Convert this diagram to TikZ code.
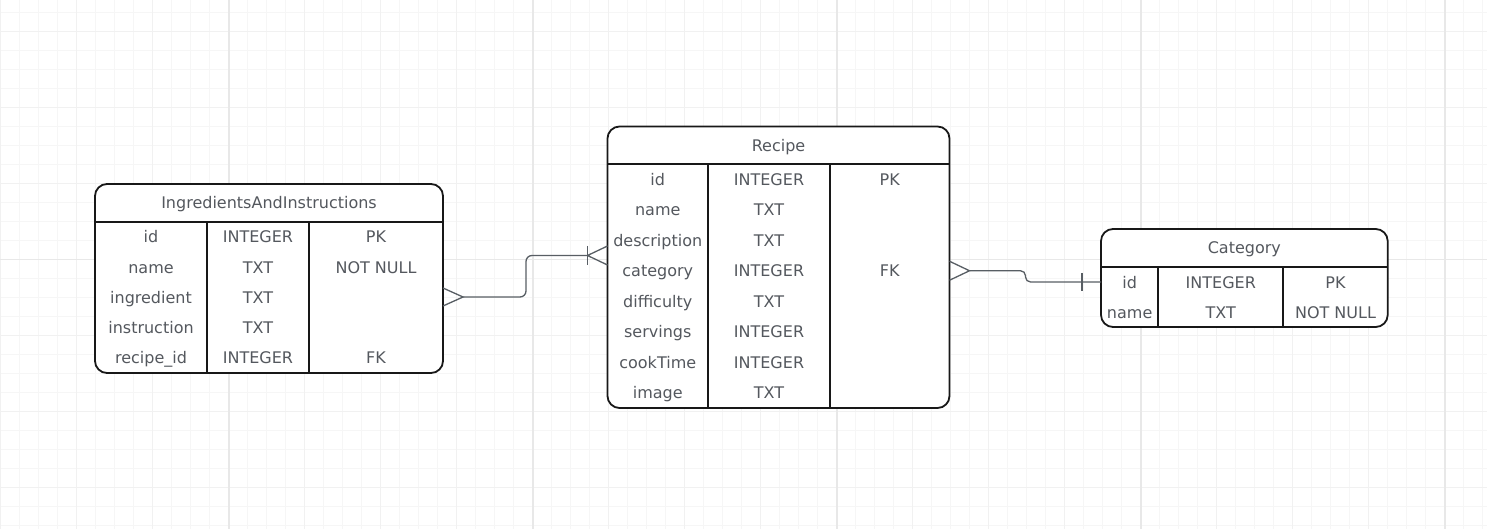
\documentclass[tikz,border=0pt]{standalone}
\usepackage{fontspec}
\setmainfont{DejaVu Sans}
\usetikzlibrary{positioning,calc}

\definecolor{textgray}{RGB}{84,88,94}
\definecolor{framecol}{RGB}{24,24,24}
\definecolor{relgray}{RGB}{88,94,100}

\begin{document}
\begin{tikzpicture}[
    x=1pt, y=-1pt,
    font=\fontsize{16}{19}\selectfont,
    gridminor/.style={draw=gray!7, line width=0.9pt},
    gridmid/.style={draw=gray!11, line width=1pt},
    gridmajor/.style={draw=gray!18, line width=1.6pt},
    entity/.style={draw=framecol, line width=1.8pt, fill=white, rounded corners=12pt, inner sep=0pt, outer sep=0pt, anchor=north west},
    entityhead/.style={text=textgray, inner sep=0pt, outer sep=0pt, minimum height=38pt, text height=12pt, text depth=0pt, anchor=north west},
    field/.style={text=textgray, inner sep=0pt, outer sep=0pt, minimum height=30pt, text height=12pt, text depth=0pt},
    recfield/.style={field, minimum height=30.5pt},
    divider/.style={draw=framecol, line width=1.8pt},
    rel/.style={draw=relgray, line width=1.3pt}
]
    \useasboundingbox (0,0) rectangle (1487,529);

    % Background grid
    \fill[white] (0,0) rectangle (1487,529);
    \foreach \x in {0.7,19.7,...,1487} \draw[gridminor] (\x,0) -- (\x,529);
    \foreach \y in {12.3,31.3,...,529} \draw[gridminor] (0,\y) -- (1487,\y);
    \foreach \x in {0.7,76.7,...,1487} \draw[gridmid] (\x,0) -- (\x,529);
    \foreach \y in {31.3,107.3,...,529} \draw[gridmid] (0,\y) -- (1487,\y);
    \foreach \x in {228.7,532.7,...,1487} \draw[gridmajor] (\x,0) -- (\x,529);
    \draw[gridmajor] (0,259.3) -- (1487,259.3);

    % IngredientsAndInstructions
    \node[entity, minimum width=348pt, minimum height=189pt] (Ingr) at (95,184) {};
    \node[entityhead, minimum width=348pt] (IngrH) at (Ingr.north west) {IngredientsAndInstructions};
    \node[field, minimum width=112pt, anchor=north west] (IN1) at (IngrH.south west) {id};
    \node[field, minimum width=112pt, below=0pt of IN1] (IN2) {name};
    \node[field, minimum width=112pt, below=0pt of IN2] (IN3) {ingredient};
    \node[field, minimum width=112pt, below=0pt of IN3] (IN4) {instruction};
    \node[field, minimum width=112pt, below=0pt of IN4] (IN5) {recipe\_id};
    \node[field, minimum width=102pt, right=0pt of IN1] (IT1) {INTEGER};
    \node[field, minimum width=102pt, right=0pt of IN2] (IT2) {TXT};
    \node[field, minimum width=102pt, right=0pt of IN3] (IT3) {TXT};
    \node[field, minimum width=102pt, right=0pt of IN4] (IT4) {TXT};
    \node[field, minimum width=102pt, right=0pt of IN5] (IT5) {INTEGER};
    \node[field, minimum width=134pt, right=0pt of IT1] (IK1) {PK};
    \node[field, minimum width=134pt, right=0pt of IT2] (IK2) {NOT NULL};
    \node[field, minimum width=134pt, right=0pt of IT5] (IK5) {FK};
    \draw[divider] (IngrH.south west) -- (IngrH.south east);
    \draw[divider] (IN1.north east) -- (IN1.north east |- Ingr.south);
    \draw[divider] (IT1.north east) -- (IT1.north east |- Ingr.south);

    % Recipe
    \node[entity, minimum width=342pt, minimum height=281.5pt] (Rec) at (607.5,126.5) {};
    \node[entityhead, minimum width=342pt, minimum height=37.5pt] (RecH) at (Rec.north west) {Recipe};
    \node[recfield, minimum width=100.5pt, anchor=north west] (RN1) at (RecH.south west) {id};
    \node[recfield, minimum width=100.5pt, below=0pt of RN1] (RN2) {name};
    \node[recfield, minimum width=100.5pt, below=0pt of RN2] (RN3) {description};
    \node[recfield, minimum width=100.5pt, below=0pt of RN3] (RN4) {category};
    \node[recfield, minimum width=100.5pt, below=0pt of RN4] (RN5) {difficulty};
    \node[recfield, minimum width=100.5pt, below=0pt of RN5] (RN6) {servings};
    \node[recfield, minimum width=100.5pt, below=0pt of RN6] (RN7) {cookTime};
    \node[recfield, minimum width=100.5pt, below=0pt of RN7] (RN8) {image};
    \node[recfield, minimum width=122pt, right=0pt of RN1] (RT1) {INTEGER};
    \node[recfield, minimum width=122pt, right=0pt of RN2] (RT2) {TXT};
    \node[recfield, minimum width=122pt, right=0pt of RN3] (RT3) {TXT};
    \node[recfield, minimum width=122pt, right=0pt of RN4] (RT4) {INTEGER};
    \node[recfield, minimum width=122pt, right=0pt of RN5] (RT5) {TXT};
    \node[recfield, minimum width=122pt, right=0pt of RN6] (RT6) {INTEGER};
    \node[recfield, minimum width=122pt, right=0pt of RN7] (RT7) {INTEGER};
    \node[recfield, minimum width=122pt, right=0pt of RN8] (RT8) {TXT};
    \node[recfield, minimum width=119.5pt, right=0pt of RT1] (RK1) {PK};
    \node[recfield, minimum width=119.5pt, right=0pt of RT4] (RK4) {FK};
    \draw[divider] (RecH.south west) -- (RecH.south east);
    \draw[divider] (RN1.north east) -- (RN1.north east |- Rec.south);
    \draw[divider] (RT1.north east) -- (RT1.north east |- Rec.south);

    % Category
    \node[entity, minimum width=286.7pt, minimum height=98pt] (Cat) at (1101,229) {};
    \node[entityhead, minimum width=286.7pt] (CatH) at (Cat.north west) {Category};
    \node[field, minimum width=57.3pt, anchor=north west] (CN1) at (CatH.south west) {id};
    \node[field, minimum width=57.3pt, below=0pt of CN1] (CN2) {name};
    \node[field, minimum width=125pt, right=0pt of CN1] (CT1) {INTEGER};
    \node[field, minimum width=125pt, right=0pt of CN2] (CT2) {TXT};
    \node[field, minimum width=104.4pt, right=0pt of CT1] (CK1) {PK};
    \node[field, minimum width=104.4pt, right=0pt of CT2] (CK2) {NOT NULL};
    \draw[divider] (CatH.south west) -- (CatH.south east);
    \draw[divider] (CN1.north east) -- (CN1.north east |- Cat.south);
    \draw[divider] (CT1.north east) -- (CT1.north east |- Cat.south);

    % Relations
    \coordinate (A1) at ($(Ingr.east |- IN3)+(20,0)$);
    \coordinate (A2) at ($(Rec.west |- RN3.south)+(-20,0)$);
    \draw[rel] (A1) ++(-20,-9) -- (A1) -- ++(-20,9);
    \draw[rel, rounded corners=6pt] (A1) -- ++(63,0) |- (A2);
    \draw[rel] (A2) ++(0,-9.5) -- ++(0,19);
    \draw[rel] (A2) ++(20,-9.5) -- (A2) -- ++(20,9.5);

    \coordinate (B1) at ($(Rec.east |- RN4)+(20,0)$);
    \coordinate (B2) at ($(Cat.west |- CN1)+(-19,0)$);
    \draw[rel] (B1) ++(-20,-9.5) -- (B1) -- ++(-20,9.5);
    \draw[rel, rounded corners=5pt] (B1) -- ++(56,0) |- (Cat.west |- CN1);
    \draw[rel] (B2) ++(0,-9.2) -- ++(0,18.4);
\end{tikzpicture}
\end{document}
